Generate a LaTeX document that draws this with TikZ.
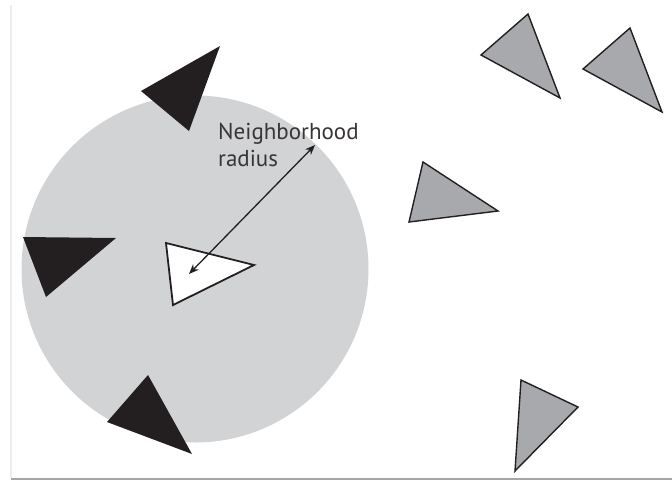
\documentclass[tikz,border=0pt]{standalone}
\usepackage{fontspec}
\setmainfont{PT Sans}
\usetikzlibrary{arrows.meta}
\definecolor{zone}{HTML}{D1D3D4}
\definecolor{midgray}{HTML}{A7A9AC}
\definecolor{ink}{HTML}{231F20}
\tikzset{
  darktri/.style={fill=ink, draw=none},
  graytri/.style={fill=midgray, draw=ink, line width=1.4pt, line join=miter},
  selftri/.style={fill=white, draw=ink, line width=1.8pt, line join=miter},
  lbl/.style={font=\fontsize{23}{26}\selectfont, text=ink!90, inner sep=0pt, anchor=base west},
  radarrow/.style={{Stealth[length=10pt,width=8pt]}-{Stealth[length=10pt,width=8pt]}, line width=1.3pt, draw=ink}
}
\begin{document}
\begin{tikzpicture}[x=1pt,y=-1pt]
\useasboundingbox (0,0) rectangle (672,480);
% frame edges
\draw[line width=2pt, draw=black!7] (11,5) -- (11,478);
\draw[line width=2pt, draw=black!35] (11,478.5) -- (672,478.5);
% neighborhood zone
\fill[zone] (195,269) circle[radius=173.5];
% black neighbours
\path[darktri] (220,46) -- (141,91) -- (189,131) -- cycle;
\path[darktri] (23,237) -- (116,238) -- (46,297) -- cycle;
\path[darktri] (148,375) -- (107,422) -- (192,454) -- cycle;
% gray agents
\draw[graytri] (528,14) -- (481,55) -- (560,98) -- cycle;
\draw[graytri] (630,28) -- (583,69) -- (662,112) -- cycle;
\draw[graytri] (423,162) -- (498,211) -- (409,222) -- cycle;
\draw[graytri] (521,380) -- (578,407) -- (515,471) -- cycle;
% focal agent
\draw[selftri] (166,243) -- (254,265) -- (173,305) -- cycle;
% label
\node[lbl] (l1) at (218,139.5) {Neighborhood};
\node[lbl] (l2) at (218,166) {radius};
% radius arrow
\coordinate (rin) at (189,274);
\coordinate (rout) at (315,145);
\draw[radarrow] (rin) -- (rout);
\end{tikzpicture}
\end{document}
